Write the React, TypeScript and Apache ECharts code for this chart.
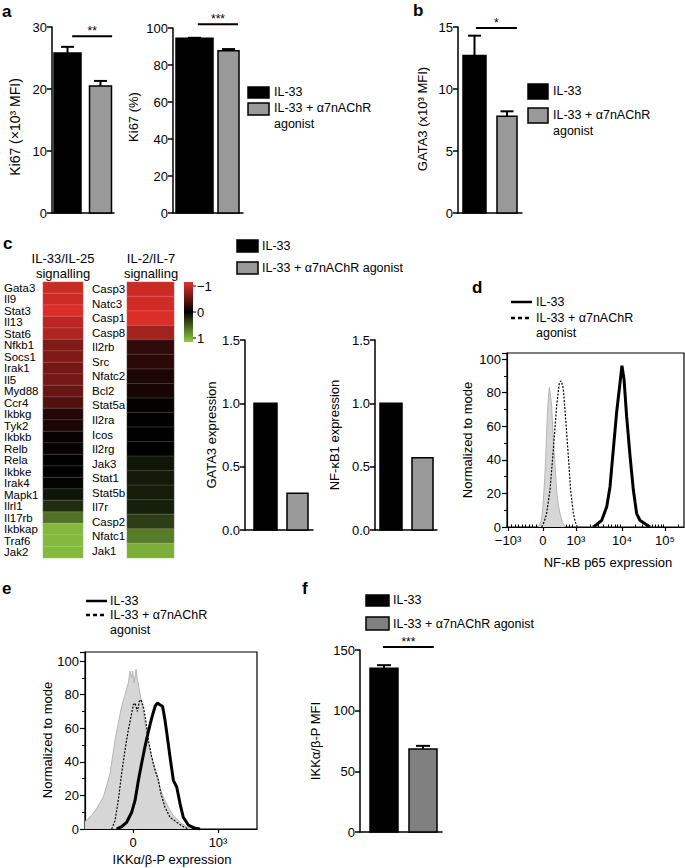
import React, { useEffect, useRef } from 'react';
import * as echarts from 'echarts';

const FONT = '"Liberation Sans", Arial, Helvetica, sans-serif';

// ---------- data ----------
const groups = ['IL-33', 'IL-33 + α7nAChR agonist'];

// a
const ki67MfiValues = [25.8, 20.5];
const ki67MfiErrors = [1.0, 0.8];
const ki67PctValues = [94.4, 87.7];
const ki67PctErrors = [0.3, 0.9];
// b
const gata3MfiValues = [12.7, 7.8];
const gata3MfiErrors = [1.6, 0.4];
// c heatmap (-1 .. 1)
const il33Genes = ['Gata3', 'Il9', 'Stat3', 'Il13', 'Stat6', 'Nfkb1', 'Socs1', 'Irak1', 'Il5', 'Myd88', 'Ccr4', 'Ikbkg', 'Tyk2', 'Ikbkb', 'Relb', 'Rela', 'Ikbke', 'Irak4', 'Mapk1', 'Ilrl1', 'Il17rb', 'Ikbkap', 'Traf6', 'Jak2'];
const il33Values = [-0.88, -0.88, -0.95, -0.8, -0.75, -0.55, -0.55, -0.5, -0.5, -0.45, -0.35, -0.15, -0.12, -0.03, -0.02, 0, 0, 0.02, 0.1, 0.22, 0.55, 0.9, 0.9, 0.9];
const il2Genes = ['Casp3', 'Natc3', 'Casp1', 'Casp8', 'Il2rb', 'Src', 'Nfatc2', 'Bcl2', 'Stat5a', 'Il2ra', 'Icos', 'Il2rg', 'Jak3', 'Stat1', 'Stat5b', 'Il7r', 'Casp2', 'Nfatc1', 'Jak1'];
const il2Values = [-0.88, -0.9, -0.95, -0.7, -0.2, -0.18, -0.12, -0.1, -0.02, 0, 0, 0, 0.1, 0.12, 0.14, 0.15, 0.3, 0.6, 0.85];
const colorbarLabels = ['−1', '0', '1'];
// c bars
const gata3ExprValues = [1.0, 0.29];
const nfkb1ExprValues = [1.0, 0.57];
// d histograms [channel, % of mode]
const dIsotype = [[181, 0], [200, 4], [210, 15], [220, 32], [233, 66], [240, 78], [245, 83], [250, 80], [258, 72], [265, 58], [272, 46], [287, 22], [297, 13], [307, 8], [320, 3], [336, 0]];
const dAgonist = [[200, 0], [215, 3], [229, 8], [249, 22], [268, 46], [287, 72], [303, 86], [312, 87], [320, 85], [326, 82], [341, 62], [355, 42], [368, 22], [384, 8], [395, 3], [407, 0]];
const dIl33 = [[499, 0], [519, 1.5], [548, 4], [577, 12], [596, 24], [615, 46], [634, 68], [654, 86], [665, 96], [677, 88], [692, 66], [712, 42], [731, 22], [750, 8], [769, 4], [798, 2], [827, 0]];
const dTickChannels = [6, 208, 399, 665, 914];
const dTickLabels = ['−10³', '0', '10³', '10⁴', '10⁵'];
// e histograms [channel, % of mode]
const eIsotype = [[0, 4.4], [30, 7], [69, 12], [109, 19], [149, 33], [179, 53], [198, 63], [218, 73], [238, 80], [258, 87], [268, 94], [278, 90], [284, 94], [292, 87], [304, 95], [312, 89], [327, 81], [347, 69], [367, 57], [387, 47], [397, 43], [407, 39], [427, 33], [446, 25], [466, 19], [496, 13], [526, 8], [566, 4], [605, 1.4], [645, 0]];
const eAgonist = [[159, 0], [179, 5], [198, 17], [218, 33], [238, 47], [258, 59], [278, 69], [288, 74], [298, 75], [312, 70], [323, 76], [333, 77], [347, 73], [361, 65], [377, 53], [397, 43], [417, 35], [437, 29], [452, 21], [476, 13], [506, 7], [546, 4], [585, 1.4], [615, 0]];
const eIl33 = [[188, 0], [218, 1.4], [248, 4], [278, 10], [298, 17], [318, 29], [337, 39], [357, 49], [377, 58], [397, 66], [417, 73], [431, 75], [446, 74], [462, 73], [476, 65], [490, 55], [506, 43], [526, 29], [546, 25], [566, 15], [585, 7], [615, 2.4], [655, 0.4], [685, 0]];
const eTickChannels = [286, 792];
const eTickLabels = ['0', '10³'];
// f
const ikkMfiValues = [135, 68.4];
const ikkMfiErrors = [2.5, 2.6];

// ---------- helpers ----------
const grids: any[] = [];
const xAxes: any[] = [];
const yAxes: any[] = [];
const series: any[] = [];
const elements: any[] = [];

const AX = { color: '#000', width: 1.5 };
const LBL = { color: '#000', fontSize: 13, fontFamily: FONT };

function txt(text: string, x: number, y: number, o: any = {}) {
  const align = o.align || 'left';
  const va = o.va || 'middle';
  elements.push({
    type: 'text', x, y, rotation: o.rot || 0, silent: true,
    style: {
      text, font: `${o.bold ? 'bold ' : ''}${o.size || 12.5}px ${FONT}`, fill: '#000',
      textAlign: align, textVerticalAlign: va, align, verticalAlign: va,
    },
  });
}
function box(x: number, y: number, w: number, h: number, fill: string) {
  elements.push({ type: 'rect', silent: true, shape: { x, y, width: w, height: h }, style: { fill, stroke: '#000', lineWidth: 1.5 } });
}
function seg(x1: number, y1: number, x2: number, y2: number, w: number, dash?: number[]) {
  elements.push({ type: 'line', silent: true, shape: { x1, y1, x2, y2 }, style: { stroke: '#000', lineWidth: w, lineDash: dash || null } });
}

function addBarPanel(p: any) {
  const gi = grids.length;
  grids.push({ left: p.left, top: p.top, width: p.width, height: p.height });
  xAxes.push({ gridIndex: gi, type: 'category', data: groups, axisLine: { lineStyle: AX }, axisTick: { show: false }, axisLabel: { show: false } });
  yAxes.push({
    gridIndex: gi, type: 'value', min: 0, max: p.max, interval: p.interval,
    axisLine: { show: true, lineStyle: AX }, axisTick: { show: true, length: 5, lineStyle: AX },
    axisLabel: { ...LBL, margin: 5, formatter: (v: number) => (p.decimals ? v.toFixed(p.decimals) : String(v)) },
    splitLine: { show: false },
  });
  const xi = xAxes.length - 1;
  const yi = yAxes.length - 1;
  const fills = p.fills || ['#000', '#999'];
  series.push({
    type: 'custom', xAxisIndex: xi, yAxisIndex: yi,
    data: p.values.map((v: number, i: number) => [i, v]),
    renderItem: (_: any, api: any) => {
      const i = api.value(0);
      const top = api.coord([i, api.value(1)]);
      const base = api.coord([i, 0]);
      const w = p.widths[i];
      const cx = top[0] + p.dx[i];
      return { type: 'rect', shape: { x: cx - w / 2, y: top[1], width: w, height: base[1] - top[1] }, style: { fill: fills[i], stroke: '#000', lineWidth: 1.5 } };
    },
  });
  if (p.errors) {
    series.push({
      type: 'custom', xAxisIndex: xi, yAxisIndex: yi,
      data: p.values.map((v: number, i: number) => [i, v, p.errors[i]]),
      renderItem: (_: any, api: any) => {
        const i = api.value(0);
        const lo = api.coord([i, api.value(1)]);
        const hi = api.coord([i, api.value(1) + api.value(2)]);
        const cx = lo[0] + p.dx[i];
        const cw = p.capW;
        return {
          type: 'group', children: [
            { type: 'line', shape: { x1: cx, y1: lo[1], x2: cx, y2: hi[1] }, style: { stroke: '#000', lineWidth: 2 } },
            { type: 'line', shape: { x1: cx - cw / 2, y1: hi[1], x2: cx + cw / 2, y2: hi[1] }, style: { stroke: '#000', lineWidth: 2 } },
          ],
        };
      },
    });
  }
  if (p.sig) {
    series.push({
      type: 'custom', xAxisIndex: xi, yAxisIndex: yi, clip: false,
      data: [[0, p.sig.y]],
      renderItem: (_: any, api: any) => {
        const c0 = api.coord([0, api.value(1)]);
        const c1 = api.coord([1, api.value(1)]);
        const x1 = c0[0] + (c1[0] - c0[0]) * p.sig.f1;
        const x2 = c0[0] + (c1[0] - c0[0]) * p.sig.f2;
        return {
          type: 'group', children: [
            { type: 'line', shape: { x1, y1: c0[1], x2, y2: c0[1] }, style: { stroke: '#000', lineWidth: 2 } },
            {
              type: 'text', x: (x1 + x2) / 2, y: c0[1] + 1,
              style: { text: p.sig.text, font: `12px ${FONT}`, fill: '#000', textAlign: 'center', textVerticalAlign: 'bottom', align: 'center', verticalAlign: 'bottom' },
            },
          ],
        };
      },
    });
  }
}

function minorFromMajors(m: number[]) {
  const out: number[] = [];
  for (let k = 1; k < 10; k++) out.push(m[0] + ((m[1] - m[0]) * k) / 10);
  for (let k = 1; k < 10; k++) out.push(m[1] + ((m[2] - m[1]) * k) / 10);
  for (let d = 2; d < m.length; d++) {
    const a = m[d];
    const span = d + 1 < m.length ? m[d + 1] - m[d] : m[d] - m[d - 1];
    for (let k = 2; k < 10; k++) {
      const v = a + span * Math.log10(k);
      if (v < 1024) out.push(v);
    }
  }
  return out;
}

function addFlowPanel(p: any) {
  const gi = grids.length;
  grids.push({ left: p.left, top: p.top, width: p.width, height: p.height, show: true, borderColor: '#000', borderWidth: 1.2, backgroundColor: 'transparent' });
  xAxes.push({
    gridIndex: gi, type: 'value', min: 0, max: 1024,
    axisLine: { show: true, onZero: false, lineStyle: { color: '#000', width: 1.2 } },
    axisTick: { show: true, customValues: p.ticks, length: 4, lineStyle: { color: '#000', width: 1.2 } },
    axisLabel: { ...LBL, margin: 7, customValues: p.ticks, formatter: (v: number) => { const i = p.ticks.indexOf(v); return i >= 0 ? p.labels[i] : ''; } },
    splitLine: { show: false },
  });
  const xi = xAxes.length - 1;
  if (p.minor) {
    xAxes.push({
      gridIndex: gi, type: 'value', min: 0, max: 1024,
      axisLine: { show: false }, axisLabel: { show: false }, splitLine: { show: false },
      axisTick: { show: true, customValues: p.minor, length: 2.5, lineStyle: { color: '#000', width: 1 } },
    });
  }
  yAxes.push({
    gridIndex: gi, type: 'value', min: 0, max: p.ymax, interval: 20,
    axisLine: { show: true, lineStyle: { color: '#000', width: 1.2 } },
    axisTick: { show: true, length: 5, lineStyle: { color: '#000', width: 1.2 } },
    minorTick: { show: true, splitNumber: 2, length: 3, lineStyle: { color: '#000', width: 1 } },
    axisLabel: { ...LBL, margin: 6, formatter: (v: number) => (v % 20 === 0 ? String(v) : '') },
    splitLine: { show: false },
  });
  const yi = yAxes.length - 1;
  series.push({ type: 'line', xAxisIndex: xi, yAxisIndex: yi, data: p.iso, showSymbol: false, symbol: 'none', lineStyle: { color: '#b5b5b5', width: 1 }, areaStyle: { color: '#d6d6d6', opacity: 1 }, z: 1 });
  series.push({ type: 'line', xAxisIndex: xi, yAxisIndex: yi, data: p.ago, showSymbol: false, symbol: 'none', lineStyle: { color: '#000', width: 1.2, type: [2, 1.5] }, z: 2 });
  series.push({ type: 'line', xAxisIndex: xi, yAxisIndex: yi, data: p.il33, showSymbol: false, symbol: 'none', lineStyle: { color: '#000', width: 3 }, z: 3 });
}

const heatSeries: number[] = [];
function addHeatColumn(p: any) {
  const gi = grids.length;
  grids.push({ left: p.left, top: p.top, width: p.width, height: p.height });
  xAxes.push({ gridIndex: gi, type: 'category', data: [''], show: false });
  yAxes.push({
    gridIndex: gi, type: 'category', data: p.genes, inverse: true,
    axisLine: { show: false }, axisTick: { show: false },
    axisLabel: { color: '#000', fontSize: 11.5, fontFamily: FONT, align: 'left', margin: p.margin, interval: 0 },
  });
  heatSeries.push(series.length);
  series.push({
    type: 'heatmap', xAxisIndex: xAxes.length - 1, yAxisIndex: yAxes.length - 1,
    data: p.values.map((v: number, i: number) => [0, i, v]),
    itemStyle: { borderColor: 'rgba(255,255,255,0.28)', borderWidth: 0.6 },
  });
}

// ---------- panels ----------
addBarPanel({ left: 52, top: 27, width: 62, height: 186, max: 30, interval: 10, values: ki67MfiValues, errors: ki67MfiErrors, widths: [27, 22], dx: [0, 2], capW: 13, sig: { y: 28.5, f1: 0.15, f2: 1.44, text: '**' } });
addBarPanel({ left: 173, top: 28, width: 70, height: 185, max: 100, interval: 20, values: ki67PctValues, errors: ki67PctErrors, widths: [37, 21], dx: [4, 3], capW: 13, sig: { y: 102, f1: 0.21, f2: 1.36, text: '***' } });
addBarPanel({ left: 458, top: 27, width: 64, height: 186, max: 15, interval: 5, values: gata3MfiValues, errors: gata3MfiErrors, widths: [23, 20], dx: [0.5, 1], capW: 13, sig: { y: 14.92, f1: 0.06, f2: 1.34, text: '*' } });
addBarPanel({ left: 245, top: 340, width: 68, height: 190, max: 1.5, interval: 0.5, decimals: 1, values: gata3ExprValues, widths: [23, 21], dx: [3.5, 1.5] });
addBarPanel({ left: 375, top: 340, width: 62, height: 190, max: 1.5, interval: 0.5, decimals: 1, values: nfkb1ExprValues, widths: [22, 21], dx: [0.5, 1] });
addBarPanel({ left: 360, top: 650, width: 82, height: 182, max: 150, interval: 50, values: ikkMfiValues, errors: ikkMfiErrors, widths: [28, 28], dx: [3.5, 1.5], capW: 14, fills: ['#000', '#808080'], sig: { y: 152.5, f1: 0.06, f2: 1.3, text: '***' } });

addHeatColumn({ left: 43, top: 282, width: 40, height: 276, genes: il33Genes, values: il33Values, margin: 39 });
addHeatColumn({ left: 127, top: 282, width: 47, height: 276, genes: il2Genes, values: il2Values, margin: 35 });

addFlowPanel({ left: 507, top: 353, width: 177, height: 174, ymax: 103.6, ticks: dTickChannels, labels: dTickLabels, minor: minorFromMajors(dTickChannels), iso: dIsotype, ago: dAgonist, il33: dIl33 });
addFlowPanel({ left: 85, top: 652, width: 172, height: 177, ymax: 105.4, ticks: eTickChannels, labels: eTickLabels, iso: eIsotype, ago: eAgonist, il33: eIl33 });

// ---------- annotations ----------
txt('a', 2, 11, { bold: true, size: 17 });
txt('b', 413, 10, { bold: true, size: 17 });
txt('c', 3, 243, { bold: true, size: 17 });
txt('d', 472, 287, { bold: true, size: 17 });
txt('e', 2, 588, { bold: true, size: 17 });
txt('f', 302, 588, { bold: true, size: 17 });

const ROT = Math.PI / 2;
txt('Ki67 (×10³ MFI)', 15, 127, { rot: ROT, align: 'center', size: 14 });
txt('Ki67 (%)', 133, 117, { rot: ROT, align: 'center', size: 13 });
txt('GATA3 (x10³ MFI)', 422, 119, { rot: ROT, align: 'center', size: 13 });
txt('GATA3 expression', 211, 435, { rot: ROT, align: 'center', size: 13 });
txt('NF-κB1 expression', 334, 435, { rot: ROT, align: 'center', size: 13 });
txt('Normalized to mode', 467, 440, { rot: ROT, align: 'center', size: 13 });
txt('NF-κB p65 expression', 608, 562, { align: 'center', size: 13 });
txt('Normalized to mode', 47, 740, { rot: ROT, align: 'center', size: 13 });
txt('IKKα/β-P expression', 172, 859, { align: 'center', size: 13 });
txt('IKKα/β-P MFI', 315, 741, { rot: ROT, align: 'center', size: 13 });

// heatmap headers
txt('IL-33/IL-25', 63, 258, { align: 'center', size: 13 });
txt('signalling', 63, 273, { align: 'center', size: 13 });
txt('IL-2/IL-7', 151, 258, { align: 'center', size: 13 });
txt('signalling', 151, 273, { align: 'center', size: 13 });

// colorbar
elements.push({
  type: 'rect', silent: true, shape: { x: 184, y: 282, width: 9, height: 60 },
  style: { fill: { type: 'linear', x: 0, y: 0, x2: 0, y2: 1, colorStops: [{ offset: 0, color: '#e8302a' }, { offset: 0.5, color: '#000' }, { offset: 1, color: '#93cd45' }] } },
});
colorbarLabels.forEach((l, i) => {
  const y = 286 + i * 26;
  seg(193, y, 196, y, 1);
  txt(l, 197, y, { size: 13 });
});

// legends
box(248, 87, 21, 11, '#000');
box(248, 103, 21, 12, '#999');
txt(groups[0], 274, 92);
txt('IL-33 + α7nAChR', 274, 108);
txt('agonist', 274, 124);

box(528, 84, 20, 15, '#000');
box(528, 108, 20, 15, '#999');
txt(groups[0], 553, 91);
txt('IL-33 + α7nAChR', 553, 115);
txt('agonist', 553, 131);

box(237, 240, 21, 12, '#000');
box(237, 262, 21, 12, '#999');
txt(groups[0], 262, 246);
txt(groups[1], 262, 268);

seg(511, 302, 532, 302, 2.5);
txt(groups[0], 536, 302);
seg(511, 318, 532, 318, 2.5, [4, 3]);
txt('IL-33 + α7nAChR', 536, 318);
txt('agonist', 536, 333);

seg(86, 601, 107, 601, 2.5);
txt(groups[0], 110, 601);
seg(86, 615, 107, 615, 2.5, [4, 3]);
txt('IL-33 + α7nAChR', 110, 615);
txt('agonist', 110, 630);

box(366, 595, 23, 11, '#000');
box(366, 617, 23, 13, '#808080');
txt(groups[0], 393, 600);
txt(groups[1], 393, 624);

const option: any = {
  animation: false,
  backgroundColor: '#fff',
  textStyle: { fontFamily: FONT },
  grid: grids,
  xAxis: xAxes,
  yAxis: yAxes,
  visualMap: {
    type: 'continuous', show: false, min: -1, max: 1, seriesIndex: heatSeries,
    inRange: { color: ['#e8302a', '#000000', '#93cd45'] },
  },
  series,
  graphic: { elements },
};

export default function App() {
  const ref = useRef<HTMLDivElement>(null);
  useEffect(() => {
    const chart = echarts.init(ref.current!, undefined, { renderer: 'svg' });
    chart.setOption(option);
    return () => chart.dispose();
  }, []);
  return <div ref={ref} style={{ position: 'absolute', left: 0, top: 0, width: 685, height: 868, background: '#fff' }} />;
}
